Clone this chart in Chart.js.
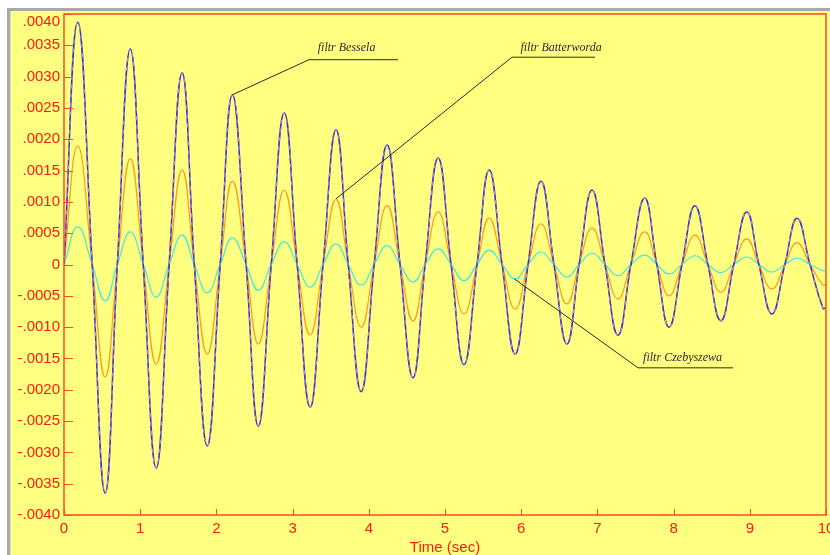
<!DOCTYPE html>
<html>
<head>
<meta charset="utf-8">
<script src="https://cdn.jsdelivr.net/npm/chart.js@4/dist/chart.umd.min.js"></script>
<style>
  html, body { margin: 0; padding: 0; background: #fff; }
  #c { display: block; }
</style>
</head>
<body>
<canvas id="c" width="830" height="555"></canvas>
<script>
// time points (sec): peaks, troughs and zero crossings
const times = [0, 0.18, 0.37, 0.54, 0.70, 0.87, 1.04, 1.21, 1.38, 1.55, 1.71, 1.88, 2.05, 2.21, 2.39,
  2.55, 2.72, 2.89, 3.06, 3.23, 3.40, 3.57, 3.73, 3.90, 4.07, 4.24, 4.41, 4.58, 4.74, 4.91, 5.08,
  5.25, 5.42, 5.58, 5.75, 5.92, 6.09, 6.26, 6.43, 6.60, 6.76, 6.93, 7.10, 7.27, 7.44, 7.62, 7.78,
  7.94, 8.11, 8.28, 8.45, 8.62, 8.79, 8.96, 9.12, 9.29, 9.46, 9.62, 9.79, 9.96, 10.0];

const bessel = [0, .00387, 0, -.00365, 0, .00344, 0, -.00325, 0, .00306, 0, -.00290, 0, .00271, 0,
  -.00258, 0, .00242, 0, -.00228, 0, .00215, 0, -.00203, 0, .00191, 0, -.00181, 0, .00170, 0,
  -.00160, 0, .00151, 0, -.00143, 0, .00133, 0, -.00127, 0, .00119, 0, -.00113, 0, .00106, 0,
  -.00100, 0, .00094, 0, -.00090, 0, .00084, 0, -.00079, 0, .00074, 0, -.00070, -.00069];

const butter = [0, .00189, 0, -.00180, 0, .00169, 0, -.00159, 0, .00151, 0, -.00143, 0, .00133, 0,
  -.00127, 0, .00119, 0, -.00113, 0, .00104, 0, -.00100, 0, .00094, 0, -.00090, 0, .00084, 0,
  -.00079, 0, .00074, 0, -.00071, 0, .00065, 0, -.00063, 0, .00058, 0, -.00055, 0, .00052, 0,
  -.00050, 0, .00047, 0, -.00044, 0, .00041, 0, -.00039, 0, .00035, 0, -.00033, -.00032];

const czeby = [0, .00060, 0, -.00058, 0, .00052, 0, -.00052, 0, .00047, 0, -.00045, 0, .00042, 0,
  -.00041, 0, .00036, 0, -.00036, 0, .00033, 0, -.00033, 0, .00030, 0, -.00028, 0, .00025, 0,
  -.00026, 0, .00023, 0, -.00023, 0, .00020, 0, -.00020, 0, .00018, 0, -.00018, 0, .00015, 0,
  -.00015, 0, .00014, 0, -.00013, 0, .00012, 0, -.00012, 0, .00010, 0, -.00010, -.00010];

const yTicks = [.004, .0035, .003, .0025, .002, .0015, .001, .0005, 0,
  -.0005, -.001, -.0015, -.002, -.0025, -.003, -.0035, -.004];
const yTickLabels = ['.0040', '.0035', '.0030', '.0025', '.0020', '.0015', '.0010', '.0005', '0',
  '-.0005', '-.0010', '-.0015', '-.0020', '-.0025', '-.0030', '-.0035', '-.0040'];
const xTicks = [0, 1, 2, 3, 4, 5, 6, 7, 8, 9, 10];
const xTickLabels = ['0', '1', '2', '3', '4', '5', '6', '7', '8', '9', '10'];

// callouts, in data coordinates
const notes = [
  { text: 'filtr Bessela', tip: [2.21, .00271], from: [3.215, .00327], to: [4.383, .00327], at: [3.33, .00341] },
  { text: 'filtr Batterworda', tip: [3.57, .00105], from: [5.879, .00331], to: [6.969, .00331], at: [5.99, .00341] },
  { text: 'filtr Czebyszewa', tip: [5.91, -.00023], from: [7.533, -.00165], to: [8.780, -.00165], at: [7.60, -.00154] }
];

const pts = vals => vals.map((v, i) => ({ x: times[i], y: v }));

const AXIS = '#ff4a2a';
const LABEL = '#ff1a10';

const framePlugin = {
  id: 'frame',
  beforeDraw(chart) {
    const ctx = chart.ctx;
    ctx.save();
    ctx.fillStyle = '#ffffff';
    ctx.fillRect(0, 0, 830, 555);
    ctx.fillStyle = '#ffff80';
    ctx.fillRect(11, 11, 819, 544);
    ctx.fillStyle = '#a9a9a9';
    ctx.fillRect(7, 8, 823, 3);
    ctx.fillRect(7, 8, 3, 547);
    ctx.fillStyle = '#d8d8d8';
    ctx.fillRect(10, 11, 1, 544);
    ctx.restore();
  },
  afterDraw(chart) {
    const ctx = chart.ctx;
    const a = chart.chartArea;
    const xs = chart.scales.x, ys = chart.scales.y;
    ctx.save();
    ctx.strokeStyle = AXIS;
    ctx.lineWidth = 1.5;
    ctx.strokeRect(a.left, a.top, a.right - a.left, a.bottom - a.top);
    ctx.lineWidth = 1;
    ctx.beginPath();
    yTicks.forEach(v => {
      const y = Math.round(ys.getPixelForValue(v)) + 0.5;
      ctx.moveTo(a.left, y); ctx.lineTo(a.left + 9, y);
    });
    xTicks.forEach(v => {
      const x = Math.round(xs.getPixelForValue(v)) + 0.5;
      ctx.moveTo(x, a.bottom); ctx.lineTo(x, a.bottom - 6);
    });
    ctx.stroke();

    ctx.fillStyle = LABEL;
    ctx.font = '15px "Liberation Sans", Arial, sans-serif';
    ctx.textAlign = 'right';
    ctx.textBaseline = 'middle';
    yTicks.forEach((v, i) => {
      const y = Math.max(ys.getPixelForValue(v), a.top + 8);
      ctx.fillText(yTickLabels[i], a.left - 4, y);
    });
    ctx.textAlign = 'center';
    ctx.textBaseline = 'top';
    xTicks.forEach((v, i) => {
      ctx.fillText(xTickLabels[i], xs.getPixelForValue(v), a.bottom + 6);
    });
    ctx.textBaseline = 'middle';
    ctx.fillText('Time (sec)', (a.left + a.right) / 2, a.bottom + 33);

    // callouts
    ctx.strokeStyle = '#2a2a2a';
    ctx.fillStyle = '#2a2a2a';
    ctx.lineWidth = 1;
    ctx.font = 'italic 12px "Liberation Serif", "Times New Roman", serif';
    ctx.textAlign = 'left';
    ctx.textBaseline = 'alphabetic';
    notes.forEach(n => {
      const tx = xs.getPixelForValue(n.tip[0]), ty = ys.getPixelForValue(n.tip[1]);
      const fx = xs.getPixelForValue(n.from[0]), fy = ys.getPixelForValue(n.from[1]);
      const ex = xs.getPixelForValue(n.to[0]);
      ctx.beginPath();
      ctx.moveTo(tx, ty); ctx.lineTo(fx, fy); ctx.lineTo(ex, fy);
      ctx.stroke();
      ctx.fillText(n.text, xs.getPixelForValue(n.at[0]), ys.getPixelForValue(n.at[1]));
    });
    ctx.restore();
  }
};

const line = (data, color, width, dash, offset) => ({
  data: pts(data),
  borderColor: color,
  borderWidth: width,
  borderDash: dash || [],
  borderDashOffset: offset || 0,
  pointRadius: 0,
  fill: false,
  tension: 0.45
});

new Chart(document.getElementById('c'), {
  type: 'line',
  data: {
    datasets: [
      line(bessel, '#e0202a', 1, [2, 7], 0),
      line(bessel, '#9c9ca6', 1.3, [4, 5], 4),
      line(bessel, '#2a2aff', 1.5),
      line(czeby, '#3fe8e0', 1.2),
      line(butter, '#ff9a1a', 1.2)
    ]
  },
  options: {
    responsive: false,
    animation: false,
    layout: { padding: { left: 64, right: 4, top: 14, bottom: 40 } },
    plugins: { legend: { display: false }, tooltip: { enabled: false } },
    scales: {
      x: { type: 'linear', min: 0, max: 10, display: false },
      y: { type: 'linear', min: -0.004, max: 0.004, display: false }
    }
  },
  plugins: [framePlugin]
});
</script>
</body>
</html>
